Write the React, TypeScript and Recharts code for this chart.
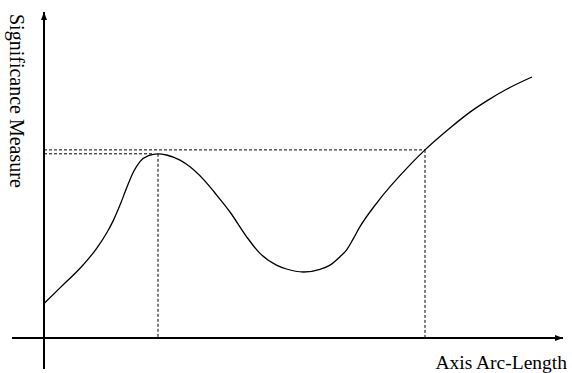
import { LineChart, Line, XAxis, YAxis, ReferenceLine } from "recharts";

// curve samples (arc length, significance)
const arcLength = [
  0, 0.32, 0.79, 1.05, 1.25, 1.39, 1.52, 1.65, 1.79, 1.92, 2.09, 2.28, 2.45, 2.72,
  2.92, 3.32, 3.45, 3.72, 4.05, 4.32, 4.65, 4.85, 5.19, 5.52, 5.72, 5.92, 6.05, 6.19,
  6.32, 6.65, 7.32, 7.62, 8.12, 8.52, 8.88, 9.26, 9.76,
];
const significance = [
  1.15, 1.67, 2.45, 2.98, 3.49, 3.93, 4.43, 4.99, 5.54, 5.88, 6.08, 6.14, 6.1, 5.93,
  5.71, 5.04, 4.77, 4.2, 3.38, 2.82, 2.43, 2.3, 2.2, 2.29, 2.43, 2.71, 2.93, 3.32,
  3.71, 4.49, 5.77, 6.27, 7.0, 7.53, 7.93, 8.3, 8.7,
];

// marked points: local peak and the later point at the same level
const peakX = 2.28;
const peakLevel = 6.14;
const peakGuideEnd = 2.2;
const crossX = 7.62;
const crossLevel = 6.27;

// axis extents (arrows drawn at the far ends)
const xAxisFrom = -0.64;
const xAxisTo = 10.38;
const yAxisFrom = -1.03;
const yAxisTo = 10.87;

const xDomain: [number, number] = [-0.88, 10.56];
const yDomain: [number, number] = [-1.1667, 11.2667];

const data = arcLength.map((x, i) => ({ x, y: significance[i] }));

const W = 572;
const H = 373;
const serif = '"Liberation Serif", "DejaVu Serif", serif';

const arrowLine = (id: string) => (p: any) => (
  <line x1={p.x1} y1={p.y1} x2={p.x2} y2={p.y2} stroke="#000" strokeWidth={2} markerEnd={`url(#${id})`} />
);

const dashed = { stroke: "#000", strokeWidth: 1, strokeDasharray: "3 2" };

export default function App() {
  return (
    <div style={{ position: "absolute", left: 0, top: 0, width: W, height: H, background: "#fff" }}>
      <LineChart width={W} height={H} data={data} margin={{ top: 0, right: 0, bottom: 0, left: 0 }}>
        <defs>
          <marker id="arrowHead" viewBox="0 0 8 6" refX="8" refY="3" markerWidth="8" markerHeight="6"
            markerUnits="userSpaceOnUse" orient="auto">
            <path d="M0,0 L8,3 L0,6 z" fill="#000" />
          </marker>
        </defs>
        <XAxis type="number" dataKey="x" domain={xDomain} allowDataOverflow hide />
        <YAxis type="number" domain={yDomain} allowDataOverflow hide />
        <ReferenceLine segment={[{ x: xAxisFrom, y: 0 }, { x: xAxisTo, y: 0 }]} shape={arrowLine("arrowHead")} />
        <ReferenceLine segment={[{ x: 0, y: yAxisFrom }, { x: 0, y: yAxisTo }]} shape={arrowLine("arrowHead")} />
        <ReferenceLine segment={[{ x: 0, y: crossLevel }, { x: crossX, y: crossLevel }]} {...dashed} />
        <ReferenceLine segment={[{ x: 0, y: peakLevel }, { x: peakGuideEnd, y: peakLevel }]} {...dashed} />
        <ReferenceLine segment={[{ x: peakX, y: peakLevel }, { x: peakX, y: 0 }]} {...dashed} />
        <ReferenceLine segment={[{ x: crossX, y: crossLevel }, { x: crossX, y: 0 }]} {...dashed} />
        <Line dataKey="y" type="monotone" stroke="#000" strokeWidth={1.3} dot={false} activeDot={false}
          isAnimationActive={false} />
      </LineChart>
      <div style={{
        position: "absolute", left: 26.5, top: 14, transformOrigin: "left top", transform: "rotate(90deg)",
        fontFamily: serif, fontSize: 20, lineHeight: 1, whiteSpace: "nowrap", color: "#000",
      }}>
        Significance Measure
      </div>
      <div style={{
        position: "absolute", right: 5, top: 352.7, fontFamily: serif, fontSize: 19.5, lineHeight: 1,
        whiteSpace: "nowrap", color: "#000",
      }}>
        Axis Arc-Length
      </div>
    </div>
  );
}
